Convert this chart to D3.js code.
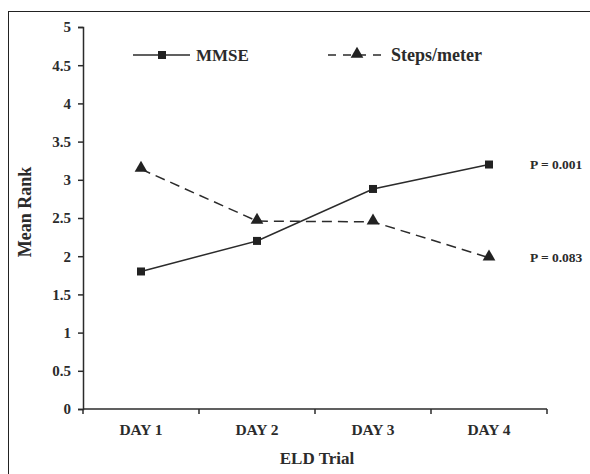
<!DOCTYPE html>
<html>
<head>
<meta charset="utf-8">
<script src="https://cdn.jsdelivr.net/npm/d3@7"></script>
<style>
  body { margin: 0; background: #fff; }
  svg { display: block; font-family: "Liberation Serif", "Times New Roman", serif; }
</style>
</head>
<body>
<svg id="chart" width="590" height="474"></svg>
<script>
const days = ['DAY 1', 'DAY 2', 'DAY 3', 'DAY 4'];
const mmse = [1.80, 2.20, 2.88, 3.20];
const steps = [3.14, 2.46, 2.45, 1.98];
const yTicks = [0, 0.5, 1, 1.5, 2, 2.5, 3, 3.5, 4, 4.5, 5];
const pLabels = ['P = 0.001', 'P = 0.083'];

const ink = '#2b2b2b';
const svg = d3.select('#chart');

// frame (only top & left edges show in the picture)
svg.append('rect')
  .attr('x', 8.5).attr('y', 11.5)
  .attr('width', 600).attr('height', 500)
  .attr('fill', 'none').attr('stroke', '#222').attr('stroke-width', 1);

const x = d3.scaleBand().domain(days).range([83, 547]);
const y = d3.scaleLinear().domain([0, 5]).range([409, 27]);

const g = svg.append('g');

// y axis
const yAxis = g.append('g')
  .attr('transform', 'translate(83,0)')
  .call(d3.axisLeft(y).tickValues(yTicks).tickSize(5).tickPadding(7).tickFormat(d3.format('')));
yAxis.select('.domain').attr('stroke', ink).attr('stroke-width', 1.5);
yAxis.selectAll('.tick line').attr('stroke', ink).attr('stroke-width', 1.5);
yAxis.selectAll('text')
  .attr('fill', ink).style('font-size', '15px').style('font-weight', 'bold')
  .style('font-family', '"Liberation Serif", serif');

// x axis, ticks on band edges
const xAxis = g.append('g').attr('transform', 'translate(0,409)');
xAxis.append('line')
  .attr('x1', x.range()[0]).attr('x2', x.range()[1])
  .attr('stroke', ink).attr('stroke-width', 1.5);
const edges = days.map(d => x(d)).concat([x.range()[1]]);
xAxis.selectAll('line.tk').data(edges).enter().append('line')
  .attr('class', 'tk')
  .attr('x1', d => d).attr('x2', d => d)
  .attr('y1', 0).attr('y2', 5)
  .attr('stroke', ink).attr('stroke-width', 1.5);
xAxis.selectAll('text').data(days).enter().append('text')
  .attr('x', d => x(d) + x.bandwidth() / 2)
  .attr('y', 26)
  .attr('text-anchor', 'middle')
  .attr('fill', ink)
  .style('font-size', '15.5px').style('font-weight', 'bold')
  .text(d => d);

// axis titles
svg.append('text')
  .attr('x', 317).attr('y', 464)
  .attr('text-anchor', 'middle').attr('fill', ink)
  .style('font-size', '17px').style('font-weight', 'bold')
  .text('ELD Trial');
svg.append('text')
  .attr('transform', 'translate(31,212) rotate(-90)')
  .attr('text-anchor', 'middle').attr('fill', ink)
  .style('font-size', '18px').style('font-weight', 'bold')
  .text('Mean Rank');

const cx = d => x(d) + x.bandwidth() / 2;
const line = d3.line().x(d => cx(d.day)).y(d => y(d.v));
const sq = d3.symbol().type(d3.symbolSquare).size(64);
const tri = d3.symbol().type(d3.symbolTriangle).size(70);

const mmseData = days.map((d, i) => ({ day: d, v: mmse[i] }));
const stepsData = days.map((d, i) => ({ day: d, v: steps[i] }));

g.append('path').datum(mmseData)
  .attr('d', line).attr('fill', 'none')
  .attr('stroke', ink).attr('stroke-width', 1.5);
g.append('path').datum(stepsData)
  .attr('d', line).attr('fill', 'none')
  .attr('stroke', ink).attr('stroke-width', 1.5)
  .attr('stroke-dasharray', '10,6');

g.selectAll('path.sq').data(mmseData).enter().append('path')
  .attr('class', 'sq')
  .attr('d', sq)
  .attr('transform', d => `translate(${cx(d.day)},${y(d.v)})`)
  .attr('fill', '#222');
g.selectAll('path.tri').data(stepsData).enter().append('path')
  .attr('class', 'tri')
  .attr('d', tri)
  .attr('transform', d => `translate(${cx(d.day)},${y(d.v) - 1})`)
  .attr('fill', '#222');

// p value labels next to last points
[mmse[3], steps[3]].forEach((v, i) => {
  svg.append('text')
    .attr('x', 530).attr('y', y(v) + 4.5)
    .attr('fill', ink)
    .style('font-size', '13.5px').style('font-weight', 'bold')
    .text(pLabels[i]);
});

// legend
const leg = svg.append('g');
leg.append('line').attr('x1', 133).attr('x2', 190).attr('y1', 55).attr('y2', 55)
  .attr('stroke', ink).attr('stroke-width', 1.5);
leg.append('path').attr('d', sq).attr('transform', 'translate(162,55)').attr('fill', '#222');
leg.append('text').attr('x', 196).attr('y', 61).attr('fill', ink)
  .style('font-size', '17px').style('font-weight', 'bold').text('MMSE');

leg.append('line').attr('x1', 328).attr('x2', 387).attr('y1', 55).attr('y2', 55)
  .attr('stroke', ink).attr('stroke-width', 1.5).attr('stroke-dasharray', '8,7');
leg.append('path').attr('d', tri).attr('transform', 'translate(357,54)').attr('fill', '#222');
leg.append('text').attr('x', 391).attr('y', 61).attr('fill', ink)
  .style('font-size', '18px').style('font-weight', 'bold').text('Steps/meter');
</script>
</body>
</html>
